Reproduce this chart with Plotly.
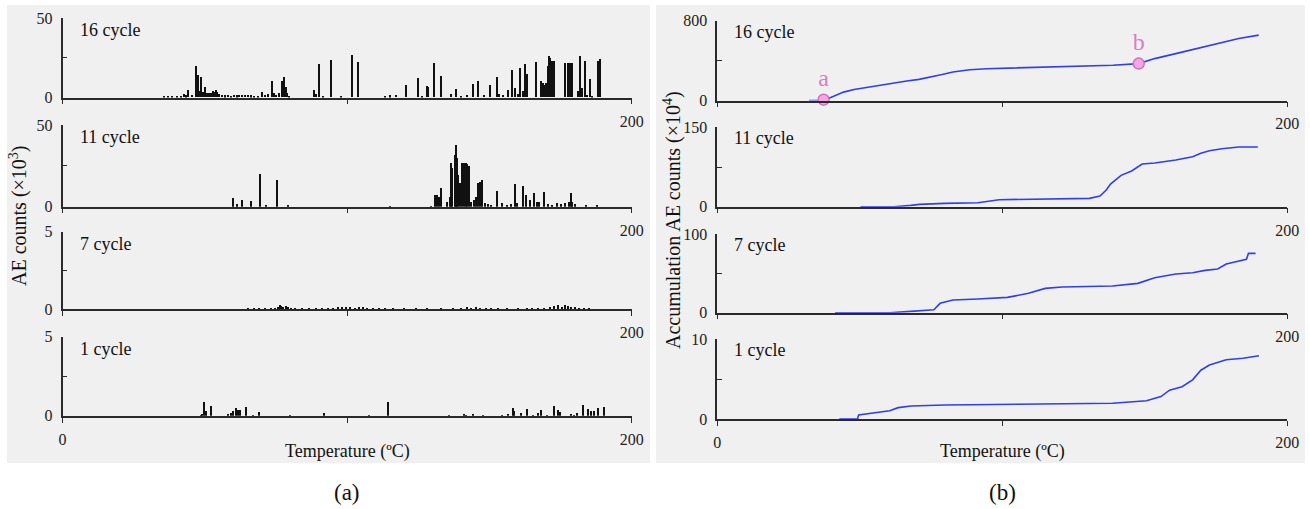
import plotly.graph_objects as go

# ---------------- data ----------------
# (a) AE counts (x10^3) vs temperature, spikes
t16 = [35.6, 37, 38.5, 40, 41.5, 42.5, 43.3, 44, 45.2, 46.8, 47.3, 47.8, 48.6, 49.2, 49.9, 50.5, 51.2, 52, 52.7,
       53.2, 53.7, 54.3, 55, 56, 57, 58, 59, 60, 61, 62, 63, 64, 65, 66, 67, 68.5, 70.1, 71, 72, 73.5, 74.3, 75,
       76, 77.1, 77.7, 78.3, 78.9, 79.5, 88.3, 88.9, 90, 91.5, 94.1, 97.7, 101.5, 103.7, 113.2, 115, 117, 120.7,
       124.7, 126, 128, 128.4, 130.5, 132.8, 136.4, 138.2, 140, 142, 144, 145.9, 148, 150.1, 152.7, 153.4, 154.8,
       156.4, 157.8, 158.8, 160, 160.7, 161.5, 162.5, 163.2, 166.1, 168, 168.7, 169.4, 169.8, 170.2, 170.5, 170.9,
       171.3, 172, 172.5, 176.4, 177.4, 178.3, 178.9, 181.1, 181.8, 182.4, 183.3, 184, 185.2, 186, 187.9, 188.8]
c16 = [0.6, 0.7, 0.8, 0.9, 1.0, 1.8, 1.2, 4.4, 1.5, 20, 14.3, 4, 12.6, 3.5, 6.5, 2.5, 3, 2.8, 4,
       3.2, 4.4, 3.5, 2.2, 1.5, 1.2, 1.3, 1.0, 1.4, 1.2, 1.5, 1.6, 1.3, 1.5, 1.2, 0.8, 1.0, 3.4, 1.5, 1.8, 10, 2.5, 1.5,
       3, 10.5, 12.8, 6.5, 3, 1, 4.4, 2, 21.2, 0.5, 23.7, 1, 26.5, 22.3, 0.8, 1.2, 1.3, 8,
       12, 0.5, 7.4, 6.3, 21.6, 13.7, 2.1, 5.3, 1, 1.3, 8.4, 10.5, 1.5, 8, 12.8, 2, 1.5,
       4.8, 17, 5.9, 2, 18.5, 4, 21.2, 14.7, 22, 10, 9, 8, 9, 7, 20, 25.8,
       24.8, 23.1, 23, 21.6, 21.6, 21.6, 21.6, 4, 26.3, 6, 22.7, 1.5, 11.8, 1, 22.7, 24.2]

t11 = [59.9, 61, 62.8, 66.2, 69.2, 71.3, 75.3, 79, 114.8, 129.4, 130.9, 131.3, 132.3, 132.8, 134.9, 135.9, 136.4,
       136.8, 137.6, 138.1, 138.4, 138.9, 139.4, 140.1, 140.9, 141.5, 142.1, 142.7, 143.5, 144.3, 145, 145.7, 146.4,
       147.3, 148.3, 149.5, 150.5, 152.7, 154.2, 156, 157.5, 158.8, 159.5, 161.5, 162.6, 164, 165.4, 166.5, 167.3,
       169.2, 170.5, 172, 173.5, 175, 176.5, 177.8, 178.6, 179, 180, 183.7, 187.6]
c11 = [5.1, 1.5, 4.1, 3.7, 20, 1, 16.3, 1, 0.4, 0.4, 7.1, 7, 5.7, 11.6, 3, 6, 26.5,
       23.5, 31.6, 37.7, 30, 19.4, 14.7, 26.9, 26.5, 26.5, 25.9, 25, 3, 4, 6.1, 14.7, 15.3,
       16.3, 2, 1.5, 1, 9.8, 2, 1.2, 1.5, 13.9, 2, 12.6, 6.9, 4, 8.6, 3, 3,
       9.2, 1.5, 1.2, 2, 1.5, 2.5, 3, 8.6, 3, 1.5, 1, 0.5]

t7 = [60.4, 65, 67, 69, 71, 73, 74.5, 75.5, 76.2, 76.8, 77.5, 78.3, 79, 80, 81.5, 84, 86.5, 89, 91, 93, 95, 96.5,
      98, 99.5, 101, 102.5, 104, 105.5, 107, 109, 111, 113, 116, 120, 124, 128, 133, 137, 140, 142, 143.5, 145,
      146.5, 148.5, 150.5, 153, 156, 160, 163, 165, 167, 169, 171, 172.5, 174, 175.2, 176.5, 177.5, 178.5, 180,
      181.5, 183, 185]
c7 = [0.03, 0.04, 0.05, 0.04, 0.06, 0.08, 0.12, 0.2, 0.3, 0.25, 0.18, 0.22, 0.15, 0.1, 0.05, 0.05, 0.06, 0.05,
      0.08, 0.05, 0.1, 0.15, 0.2, 0.15, 0.18, 0.12, 0.2, 0.15, 0.12, 0.1, 0.08, 0.05, 0.04, 0.04, 0.05, 0.05, 0.06,
      0.08, 0.1, 0.15, 0.12, 0.18, 0.1, 0.12, 0.08, 0.06, 0.05, 0.06, 0.08, 0.05, 0.1, 0.12, 0.15, 0.22, 0.28, 0.2,
      0.3, 0.25, 0.18, 0.2, 0.12, 0.08, 0.05]

t1 = [48.5, 49, 49.7, 50.4, 51.9, 57.9, 58.9, 59.9, 60.7, 61.4, 62.2, 64.3, 66.9, 68.8, 79.7, 91.6, 107.6, 114.2,
      135.5, 141.1, 141.6, 144.1, 147.6, 154.2, 156.5, 158.1, 158.5, 161.1, 162.9, 165.1, 166.8, 168, 170.2, 172.5,
      173.8, 174.5, 178.5, 179.6, 180.8, 182.7, 184.5, 185.5, 186.6, 188.1, 190.2]
c1 = [0.1, 0.15, 0.89, 0.3, 0.61, 0.15, 0.2, 0.3, 0.53, 0.4, 0.4, 0.57, 0.1, 0.25, 0.1, 0.21, 0.1, 0.89,
      0.05, 0.15, 0.1, 0.15, 0.1, 0.1, 0.15, 0.53, 0.3, 0.2, 0.46, 0.1, 0.2, 0.4, 0.1, 0.61,
      0.4, 0.25, 0.15, 0.1, 0.2, 0.72, 0.45, 0.3, 0.3, 0.53, 0.57]

# (b) accumulation AE counts (x10^4)
ct16 = [32.2, 37.3, 39, 41.5, 44.3, 48, 53.1, 57, 62, 66.5, 70.8, 75, 78.5, 82.7, 88.6, 94.5, 109.2, 124, 138.8,
        147.9, 153.5, 160.9, 168.3, 175.6, 183, 190]
cv16 = [0, 0, 20, 50, 84, 110, 134, 155, 175, 195, 212, 235, 258, 286, 309, 319, 329, 339, 353,
        370, 420, 470, 521, 578, 622, 655]

ct11 = [50.2, 62, 67.9, 70.9, 79.7, 91.5, 98.9, 109, 115.1, 124, 130.6, 134.3, 136.5, 138, 141.7, 145.4, 149.1,
        153.5, 160.9, 166.8, 169.7, 172.7, 177.1, 183, 189.7]
cv11 = [0, 0, 2.5, 4.4, 6.3, 7.6, 13.2, 13.9, 15.1, 15.8, 15.8, 20.2, 31.5, 42.8, 59.2, 67.4, 80.6,
        82.5, 88.2, 94.5, 100.8, 105.8, 109.6, 112.8, 112.8]

ct7 = [41.3, 60.5, 67.9, 76, 78.2, 82.7, 91.5, 101.8, 109.2, 115.1, 121, 138.7, 147.6, 153.5, 160.9, 166.8, 171.2,
       175.6, 178.6, 183, 185.7, 186.4, 188.9]
cv7 = [0, 0, 1.7, 3.8, 11.9, 16.1, 17.4, 19.5, 24.6, 30.9, 32.6, 33.9, 37.3, 44.5, 49.2, 50.8, 53.8,
       55.5, 61.9, 66.1, 67.8, 75.4, 75.4]

ct1 = [42.8, 49.2, 49.6, 54.6, 60.5, 63.5, 68, 79.7, 109.2, 138.7, 150.6, 155.7, 158.7, 163.1, 166.8, 169.7,
       172.7, 178.6, 184.5, 190.1]
cv1 = [0, 0, 0.5, 0.71, 1.04, 1.42, 1.63, 1.75, 1.83, 1.96, 2.29, 2.8, 3.6, 4.04, 4.9, 6.1,
       6.75, 7.4, 7.6, 7.9]

point_labels = ["a", "b"]
point_t = [37.3, 147.9]
point_v = [8, 370]

cycle_labels = ["16 cycle", "11 cycle", "7 cycle", "1 cycle"]
left_ymax = [50, 50, 5, 5]
right_ymax = [800, 150, 100, 10]
x_ticks = [0, 100, 200]
x_ticktext_upper = ["", "", "200"]
x_ticktext_bottom = ["0", "", "200"]

# ---------------- layout helpers ----------------
W, H = 1310, 509
def px(x):
    return x / W
def py(y):
    return 1 - y / H

FONT = "Liberation Serif, Times New Roman, serif"
AXC = "#2a2a2a"

left_x = [62.5, 631.7]
right_x = [717.3, 1287.2]
left_rows = [(18.3, 97.6), (125.0, 206.7), (231.7, 309.3), (336.7, 415.8)]
right_rows = [(20.7, 100.5), (127.3, 206.7), (234.0, 312.7), (339.0, 419.0)]

fig = go.Figure()
layout = dict(
    width=W, height=H, autosize=False,
    margin=dict(l=0, r=0, t=0, b=0, pad=0, autoexpand=False),
    paper_bgcolor="white", plot_bgcolor="rgba(0,0,0,0)",
    font=dict(family=FONT, size=16, color="#222"),
    showlegend=False, bargap=0,
)

left_data = [(t16, c16), (t11, c11), (t7, c7), (t1, c1)]
right_data = [(ct16, cv16), (ct11, cv11), (ct7, cv7), (ct1, cv1)]

def axes(idx, xd, yd, ymax, bottom):
    xa = dict(domain=[px(xd[0]), px(xd[1])], range=[0, 200], showline=True, linecolor=AXC, linewidth=1.5,
              ticks="outside", ticklen=5, tickwidth=1.3, tickcolor=AXC, tickvals=x_ticks,
              ticktext=x_ticktext_bottom if bottom else x_ticktext_upper, showgrid=False, zeroline=False,
              anchor="y" + ("" if idx == 1 else str(idx)), fixedrange=True, automargin=False,
              tickfont=dict(family=FONT, size=16, color="#222"), ticklabelstandoff=3)
    ya = dict(domain=[py(yd[1]), py(yd[0])], range=[0, ymax], showline=True, linecolor=AXC, linewidth=1.5,
              ticks="inside", ticklen=5, tickwidth=1.3, tickcolor=AXC, tickvals=[0, ymax / 2, ymax],
              ticktext=["0", "", str(ymax)], showgrid=False, zeroline=False,
              anchor="x" + ("" if idx == 1 else str(idx)), fixedrange=True, automargin=False,
              tickfont=dict(family=FONT, size=16, color="#222"), ticklabelstandoff=5)
    s = "" if idx == 1 else str(idx)
    layout["xaxis" + s] = xa
    layout["yaxis" + s] = ya

annotations = []
for i in range(4):
    idx = i + 1
    axes(idx, left_x, left_rows[i], left_ymax[i], i == 3)
    s = "" if idx == 1 else str(idx)
    t, c = left_data[i]
    fig.add_trace(go.Bar(x=t, y=c, width=0.42, marker=dict(color="#111", line=dict(width=0)),
                         xaxis="x" + s, yaxis="y" + s, hoverinfo="skip"))
    annotations.append(dict(text=cycle_labels[i], x=px(78), y=py(left_rows[i][0] + 12), xref="paper", yref="paper",
                            xanchor="left", yanchor="middle", showarrow=False,
                            font=dict(family=FONT, size=18, color="#111")))
for i in range(4):
    idx = i + 5
    axes(idx, right_x, right_rows[i], right_ymax[i], i == 3)
    s = str(idx)
    t, v = right_data[i]
    fig.add_trace(go.Scatter(x=t, y=v, mode="lines", line=dict(color="#2f3ef0", width=1.6),
                             xaxis="x" + s, yaxis="y" + s, hoverinfo="skip"))
    annotations.append(dict(text=cycle_labels[i], x=px(732), y=py(right_rows[i][0] + 11), xref="paper", yref="paper",
                            xanchor="left", yanchor="middle", showarrow=False,
                            font=dict(family=FONT, size=18, color="#111")))

# points a, b
fig.add_trace(go.Scatter(x=point_t, y=point_v, mode="markers+text", text=point_labels, textposition="top center",
                         textfont=dict(family=FONT, size=24, color="#d77fc0"),
                         marker=dict(size=11, color="#f2a6e4", line=dict(color="#d070bf", width=1.5)),
                         xaxis="x5", yaxis="y5", hoverinfo="skip", cliponaxis=False))

# titles
annotations += [
    dict(text="AE counts (×10<sup>3</sup>)", x=px(19), y=py(216), xref="paper", yref="paper", textangle=-90,
         showarrow=False, xanchor="center", yanchor="middle", font=dict(family=FONT, size=20, color="#111")),
    dict(text="Accumulation AE counts (×10<sup>4</sup>)", x=px(672), y=py(220), xref="paper", yref="paper",
         textangle=-90, showarrow=False, xanchor="center", yanchor="middle",
         font=dict(family=FONT, size=20, color="#111")),
    dict(text="Temperature (ºC)", x=px(347), y=py(451), xref="paper", yref="paper", showarrow=False,
         xanchor="center", yanchor="middle", font=dict(family=FONT, size=18, color="#111")),
    dict(text="Temperature (ºC)", x=px(1002), y=py(451), xref="paper", yref="paper", showarrow=False,
         xanchor="center", yanchor="middle", font=dict(family=FONT, size=18, color="#111")),
    dict(text="(a)", x=px(347), y=py(492), xref="paper", yref="paper", showarrow=False,
         xanchor="center", yanchor="middle", font=dict(family=FONT, size=23, color="#111")),
    dict(text="(b)", x=px(1002), y=py(492), xref="paper", yref="paper", showarrow=False,
         xanchor="center", yanchor="middle", font=dict(family=FONT, size=23, color="#111")),
]
layout["annotations"] = annotations
layout["shapes"] = [
    dict(type="rect", xref="paper", yref="paper", x0=px(7), x1=px(650), y0=py(463), y1=py(5),
         fillcolor="#f0f0f0", line=dict(width=0), layer="below"),
    dict(type="rect", xref="paper", yref="paper", x0=px(656), x1=px(1305), y0=py(463), y1=py(5),
         fillcolor="#f0f0f0", line=dict(width=0), layer="below"),
]
fig.update_layout(**layout)
fig.write_html("out.html")
